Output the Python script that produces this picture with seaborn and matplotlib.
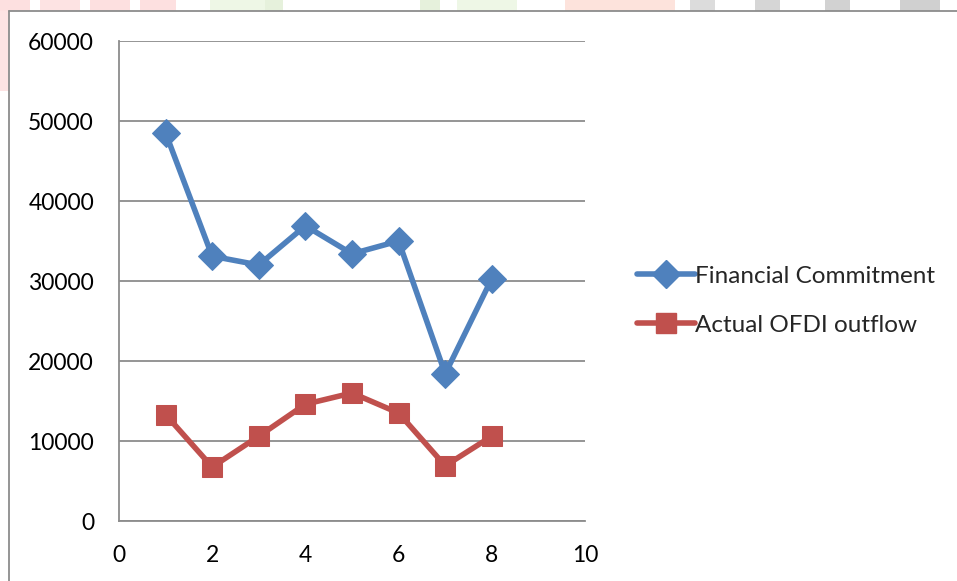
import matplotlib
matplotlib.use("Agg")
import matplotlib.pyplot as plt
import matplotlib.patches as mpatches
from matplotlib.lines import Line2D
import seaborn as sns
import pandas as pd

periods = [1, 2, 3, 4, 5, 6, 7, 8]
financial_commitment = [48500, 33100, 32000, 36900, 33400, 35000, 18400, 30300]
actual_ofdi_outflow = [13300, 6750, 10600, 14600, 16000, 13500, 6900, 10600]
series_names = ["Financial Commitment", "Actual OFDI outflow"]
x_ticks = [0, 2, 4, 6, 8, 10]
y_ticks = [0, 10000, 20000, 30000, 40000, 50000, 60000]

sns.set_style("white")
plt.rcParams["font.family"] = ["Lato", "DejaVu Sans"]

W, H = 957, 581
fig = plt.figure(figsize=(W / 100, H / 100), dpi=100)

def fx(px):
    return px / W

def fy(py):
    return 1 - py / H

# faint watermark fragments at the top edge
wm = [
    (0, 0, 30, 11, "#fde0e0"), (40, 0, 40, 11, "#fde3e3"), (90, 0, 40, 11, "#fde0e0"),
    (140, 0, 36, 11, "#fde0e0"), (210, 0, 70, 11, "#eef7e6"), (265, 0, 18, 11, "#e6f1dc"),
    (420, 0, 20, 11, "#e6f1dc"), (457, 0, 60, 11, "#eef7e6"), (565, 0, 110, 11, "#fde3dc"),
    (690, 0, 25, 11, "#dcdcdc"), (755, 0, 25, 11, "#d6d6d6"), (825, 0, 25, 11, "#d2d2d2"),
    (900, 0, 40, 11, "#d0d0d0"), (0, 11, 9, 80, "#fde3e3"),
]
for x0, y0, w, h, c in wm:
    fig.patches.append(mpatches.Rectangle((fx(x0), fy(y0 + h)), w / W, h / H,
                                          transform=fig.transFigure, facecolor=c,
                                          edgecolor="none", zorder=0))

# chart frame
fig.add_artist(Line2D([fx(9), fx(9)], [fy(11), 0], transform=fig.transFigure,
                      color="#8c8c8c", lw=1.3))
fig.add_artist(Line2D([fx(9), 1], [fy(11), fy(11)], transform=fig.transFigure,
                      color="#8c8c8c", lw=1.3))

ax = fig.add_axes([fx(119), fy(521), (585 - 119) / W, (521 - 41) / H])

df = pd.DataFrame({
    "x": periods * 2,
    "y": financial_commitment + actual_ofdi_outflow,
    "series": [series_names[0]] * len(periods) + [series_names[1]] * len(periods),
})
colors = {series_names[0]: "#4F81BD", series_names[1]: "#C0504D"}
markers = {series_names[0]: "D", series_names[1]: "s"}
sizes = {series_names[0]: 14, series_names[1]: 15}

for name in series_names:
    sub = df[df["series"] == name]
    sns.lineplot(data=sub, x="x", y="y", ax=ax, color=colors[name], lw=4,
                 marker=markers[name], markersize=sizes[name],
                 markeredgecolor=colors[name], label=name, legend=False, zorder=3)

ax.set_xlim(0, 10)
ax.set_ylim(0, 60000)
ax.set_xticks(x_ticks)
ax.set_yticks(y_ticks)
ax.set_xlabel("")
ax.set_ylabel("")
ax.yaxis.grid(True, color="#8c8c8c", lw=1.3)
ax.xaxis.grid(False)
for s in ["top", "right"]:
    ax.spines[s].set_visible(False)
for s in ["left", "bottom"]:
    ax.spines[s].set_color("#8c8c8c")
    ax.spines[s].set_linewidth(1.3)
ax.tick_params(axis="both", which="major", direction="out", length=5, width=1.3,
               color="#8c8c8c", labelsize=16.5, labelcolor="black")
ax.tick_params(axis="x", pad=12)
ax.tick_params(axis="y", pad=13)
ax.set_axisbelow(True)

handles = [Line2D([], [], color=colors[n], lw=4, marker=markers[n],
                  markersize=sizes[n], markeredgecolor=colors[n]) for n in series_names]
fig.legend(handles, series_names, loc="upper left",
           bbox_to_anchor=(fx(632), fy(261)), frameon=False, fontsize=17.5,
           handlelength=2.4, handletextpad=0.0, labelspacing=1.15,
           borderaxespad=0, borderpad=0.2)

fig.savefig("out.png", dpi=100)
